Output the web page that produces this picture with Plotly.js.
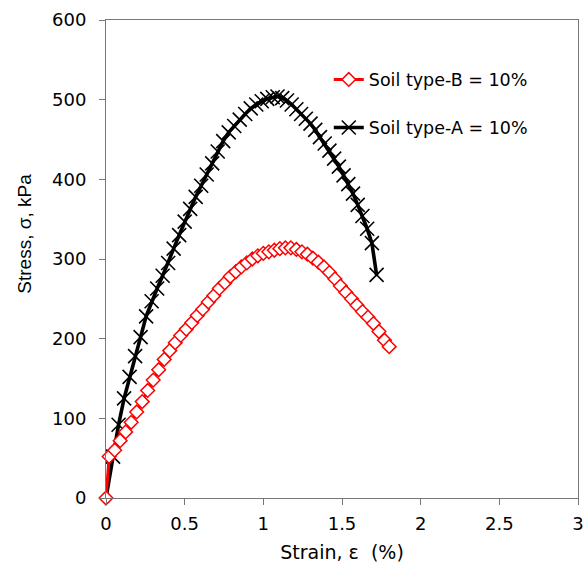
<!DOCTYPE html>
<html>
<head>
<meta charset="utf-8">
<script src="https://cdn.plot.ly/plotly-3.0.1.min.js"></script>
<style>html,body{margin:0;padding:0;background:#fff;}#chart{width:588px;height:565px;}</style>
</head>
<body>
<div id="chart"></div>
<script>
// Soil type-A = 10% (black, x markers)
var strainA = [0, 0.045, 0.08, 0.115, 0.15, 0.185, 0.22, 0.255, 0.29, 0.325, 0.36, 0.395, 0.43, 0.465, 0.5, 0.535, 0.57, 0.605, 0.64, 0.675, 0.71, 0.745, 0.78, 0.815, 0.85, 0.885, 0.92, 0.955, 0.99, 1.025, 1.06, 1.09, 1.12, 1.15, 1.18, 1.21, 1.24, 1.27, 1.30, 1.33, 1.36, 1.39, 1.42, 1.45, 1.48, 1.51, 1.54, 1.57, 1.60, 1.63, 1.66, 1.69, 1.72];
var stressA = [0, 52, 92, 125, 152, 178, 202, 228, 247, 263, 279, 295, 313, 330, 347, 363, 378, 392, 406, 420, 435, 448, 459, 467, 475, 482, 489, 494, 498, 501, 503, 504, 502, 499, 494, 488, 482, 476, 470, 462, 453, 445, 436, 426, 416, 405, 394, 382, 368, 354, 338, 320, 280];
// Soil type-B = 10% (red, diamond markers)
var strainB = [0, 0.02, 0.055, 0.09, 0.125, 0.16, 0.195, 0.23, 0.265, 0.30, 0.335, 0.37, 0.405, 0.44, 0.475, 0.51, 0.545, 0.58, 0.615, 0.65, 0.685, 0.72, 0.755, 0.79, 0.825, 0.86, 0.895, 0.93, 0.965, 1.0, 1.035, 1.07, 1.105, 1.14, 1.175, 1.21, 1.245, 1.28, 1.315, 1.35, 1.385, 1.42, 1.455, 1.49, 1.525, 1.56, 1.595, 1.63, 1.665, 1.70, 1.735, 1.77, 1.80];
var stressB = [0, 52, 60, 72, 83, 95, 108, 121, 135, 148, 161, 174, 185, 195, 204, 212, 220, 229, 237, 246, 254, 263, 270, 278, 284, 290, 295, 300, 304, 307, 309, 311, 313, 314, 314, 312, 309, 306, 301, 296, 290, 283, 275, 266, 258, 250, 242, 234, 227, 219, 209, 198, 190];
var nameA = 'Soil type-A = 10%';
var nameB = 'Soil type-B = 10%';
var xTicks = [0, 0.5, 1, 1.5, 2, 2.5, 3];
var xTickText = ['0', '0.5', '1', '1.5', '2', '2.5', '3'];
var yTicks = [0, 100, 200, 300, 400, 500, 600];

// the origin point of series A carries no visible marker (only the line starts there)
var markerOpacityA = strainA.map(function (v, i) { return i === 0 ? 0 : 1; });

var traceA = {
  x: strainA, y: stressA, name: nameA, type: 'scatter', mode: 'lines+markers',
  line: {color: '#000000', width: 3.6},
  marker: {symbol: 'x-thin-open', size: 14, color: '#000000', opacity: markerOpacityA, line: {color: '#000000', width: 1.6}},
  cliponaxis: false, legend: 'legend2'
};
var traceB = {
  x: strainB, y: stressB, name: nameB, type: 'scatter', mode: 'lines+markers',
  line: {color: '#ff0000', width: 3},
  marker: {symbol: 'diamond', size: 10.5, color: '#ffffff', line: {color: '#ff0000', width: 1.5}},
  cliponaxis: false, legend: 'legend'
};

var axisFont = {family: 'DejaVu Sans', size: 18, color: '#000'};
var layout = {
  width: 588, height: 565,
  margin: {l: 106, r: 10, t: 20, b: 67, pad: 0},
  paper_bgcolor: '#ffffff', plot_bgcolor: '#ffffff',
  showlegend: true,
  xaxis: {
    range: [0, 3], tickvals: xTicks, ticktext: xTickText,
    showgrid: false, zeroline: false, showline: true, mirror: true,
    linecolor: '#777777', linewidth: 1,
    ticks: 'outside', ticklen: 6, tickcolor: '#777777', tickwidth: 1,
    tickfont: axisFont, ticklabelstandoff: 3,
    title: {text: 'Strain, \u03b5  (%)', font: {family: 'DejaVu Sans', size: 19, color: '#000'}, standoff: 13}
  },
  yaxis: {
    range: [0, 600], tickvals: yTicks,
    showgrid: false, zeroline: false, showline: true, mirror: true,
    linecolor: '#777777', linewidth: 1,
    ticks: 'outside', ticklen: 6, tickcolor: '#777777', tickwidth: 1,
    tickfont: axisFont, ticklabelstandoff: 9
  },
  annotations: [{
    text: 'Stress, \u03c3, kPa', xref: 'paper', yref: 'paper',
    x: -0.1716, y: 0.553, xanchor: 'center', yanchor: 'middle',
    textangle: -90, showarrow: false,
    font: {family: 'Liberation Sans', size: 19, color: '#000'}
  }],
  legend: {
    x: 0.472, y: 0.913, xanchor: 'left', yanchor: 'top',
    bgcolor: 'rgba(0,0,0,0)', borderwidth: 0,
    font: {family: 'DejaVu Sans', size: 17.5, color: '#000'}
  },
  legend2: {
    x: 0.472, y: 0.8126, xanchor: 'left', yanchor: 'top',
    bgcolor: 'rgba(0,0,0,0)', borderwidth: 0,
    font: {family: 'DejaVu Sans', size: 17.5, color: '#000'}
  }
};

Plotly.newPlot('chart', [traceA, traceB], layout, {displayModeBar: false, staticPlot: true});
</script>
</body>
</html>
